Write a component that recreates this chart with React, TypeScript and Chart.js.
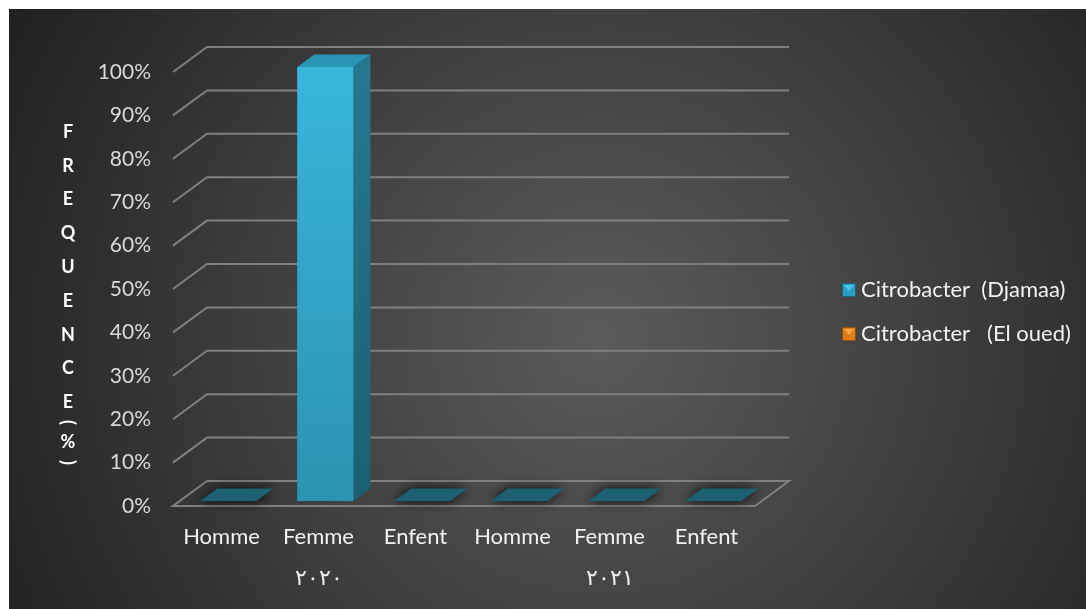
import React, { useEffect, useRef } from 'react';
import { Chart, registerables } from 'chart.js';

Chart.register(...registerables);

// ---- data ----
const categories = ['Homme', 'Femme', 'Enfent', 'Homme', 'Femme', 'Enfent'];
const years = ['٢٠٢٠', '٢٠٢١'];
const djamaa: (number | null)[] = [0, 100, 0, 0, 0, 0];
const elOued: (number | null)[] = [null, null, null, null, null, null];
const seriesNames = ['Citrobacter  (Djamaa)', 'Citrobacter   (El oued)'];
const axisTitle = ['F', 'R', 'E', 'Q', 'U', 'E', 'N', 'C', 'E', '(', '%', ')'];
const yMin = 0;
const yMax = 100;
const yStep = 10;

// ---- styles ----
const W = 1077;
const H = 600;
const DEPTH = { x: 34, y: -25 };
const BAR_FRONT = 0.2;
const BAR_BACK = 0.7;
const FONT = 'Lato, "Open Sans", sans-serif';
const palette = [
  { front0: '#38b6db', front1: '#2c93b0', top: '#2a94b4', side0: '#25788f', side1: '#1c5f72', flat: '#1d6072', mark: '#2a9ec2', markTop: '#4cc6ea' },
  { front0: '#f39a3c', front1: '#c86a14', top: '#d97b22', side0: '#a85612', side1: '#8a460e', flat: '#8a4a12', mark: '#e07b1a', markTop: '#f7a445' },
];

const labels = categories.map((c, i) => (i % 3 === 1 ? [c, years[Math.floor(i / 3)]] : c));

const threeD = {
  id: 'threeD',
  beforeDraw(chart: any) {
    const { ctx, width, height } = chart;
    const g = ctx.createRadialGradient(590, 330, 0, 590, 330, 700);
    g.addColorStop(0, '#5b5b5b');
    g.addColorStop(0.55, '#3a3a3a');
    g.addColorStop(1, '#1e1e1e');
    ctx.save();
    ctx.fillStyle = g;
    ctx.fillRect(0, 0, width, height);
    ctx.restore();
  },
  beforeDatasetsDraw(chart: any) {
    const { ctx, chartArea: a, scales } = chart;
    const y = scales.y;
    ctx.save();
    ctx.strokeStyle = '#808080';
    ctx.lineWidth = 2;
    y.ticks.forEach((t: any) => {
      if (t.value === yMin) return;
      const py = y.getPixelForValue(t.value);
      ctx.beginPath();
      ctx.moveTo(a.left, py);
      ctx.lineTo(a.left + DEPTH.x, py + DEPTH.y);
      ctx.lineTo(a.right + DEPTH.x, py + DEPTH.y);
      ctx.stroke();
    });
    const pb = y.getPixelForValue(yMin);
    ctx.beginPath();
    ctx.moveTo(a.left, pb);
    ctx.lineTo(a.right, pb);
    ctx.lineTo(a.right + DEPTH.x, pb + DEPTH.y);
    ctx.lineTo(a.left + DEPTH.x, pb + DEPTH.y);
    ctx.closePath();
    ctx.stroke();
    ctx.restore();
  },
  afterDatasetsDraw(chart: any) {
    const { ctx } = chart;
    const f0x = DEPTH.x * BAR_FRONT;
    const f0y = DEPTH.y * BAR_FRONT;
    const ddx = DEPTH.x * (BAR_BACK - BAR_FRONT);
    const ddy = DEPTH.y * (BAR_BACK - BAR_FRONT);
    chart.data.datasets.forEach((ds: any, di: number) => {
      const meta = chart.getDatasetMeta(di);
      const col = palette[di];
      meta.data.forEach((el: any, i: number) => {
        const v = ds.data[i];
        if (v === null || v === undefined) return;
        const { x, y, base, width } = el.getProps(['x', 'y', 'base', 'width'], true);
        const x0 = x - width / 2 + f0x;
        const x1 = x0 + width;
        const yt = Math.min(y, base) + f0y;
        const yb = base + f0y;
        ctx.save();
        if (yb - yt < 1) {
          ctx.shadowColor = 'rgba(0,0,0,0.9)';
          ctx.shadowBlur = 12;
          ctx.fillStyle = col.flat;
          ctx.beginPath();
          ctx.moveTo(x0, yb);
          ctx.lineTo(x1, yb);
          ctx.lineTo(x1 + ddx, yb + ddy);
          ctx.lineTo(x0 + ddx, yb + ddy);
          ctx.closePath();
          ctx.fill();
          ctx.restore();
          return;
        }
        // side face
        const sg = ctx.createLinearGradient(0, yt, 0, yb);
        sg.addColorStop(0, col.side0);
        sg.addColorStop(1, col.side1);
        ctx.fillStyle = sg;
        ctx.beginPath();
        ctx.moveTo(x1, yt);
        ctx.lineTo(x1 + ddx, yt + ddy);
        ctx.lineTo(x1 + ddx, yb + ddy);
        ctx.lineTo(x1, yb);
        ctx.closePath();
        ctx.fill();
        // top face
        ctx.fillStyle = col.top;
        ctx.beginPath();
        ctx.moveTo(x0, yt);
        ctx.lineTo(x1, yt);
        ctx.lineTo(x1 + ddx, yt + ddy);
        ctx.lineTo(x0 + ddx, yt + ddy);
        ctx.closePath();
        ctx.fill();
        // front face
        const fg = ctx.createLinearGradient(0, yt, 0, yb);
        fg.addColorStop(0, col.front0);
        fg.addColorStop(1, col.front1);
        ctx.fillStyle = fg;
        ctx.fillRect(x0, yt, width, yb - yt);
        ctx.restore();
      });
    });
  },
  afterDraw(chart: any) {
    const { ctx } = chart;
    ctx.save();
    // vertical axis title
    ctx.fillStyle = '#ffffff';
    ctx.font = `bold 18px ${FONT}`;
    ctx.textAlign = 'center';
    ctx.textBaseline = 'middle';
    let ty = 123;
    const tx = 59;
    axisTitle.forEach((ch, i) => {
      const isParen = ch === '(' || ch === ')';
      if (i > 0) {
        const prev = axisTitle[i - 1];
        const prevParen = prev === '(' || prev === ')';
        ty += isParen || prevParen ? 20 : 33.8;
      }
      if (isParen) {
        ctx.save();
        ctx.translate(tx, ty);
        ctx.rotate(Math.PI / 2);
        ctx.fillText(ch, 0, 0);
        ctx.restore();
      } else {
        ctx.fillText(ch, tx, ty);
      }
    });
    // legend
    ctx.font = `22px ${FONT}`;
    ctx.textAlign = 'left';
    chart.data.datasets.forEach((ds: any, di: number) => {
      const col = palette[di];
      const cy = 281 + di * 44;
      const mx = 833;
      const s = 14;
      const my = cy - s / 2;
      ctx.fillStyle = col.mark;
      ctx.fillRect(mx, my, s, s);
      ctx.fillStyle = col.markTop;
      ctx.beginPath();
      ctx.moveTo(mx + 2, my + 2);
      ctx.lineTo(mx + s - 2, my + 2);
      ctx.lineTo(mx + s / 2, my + s / 2 + 1);
      ctx.closePath();
      ctx.fill();
      ctx.strokeStyle = 'rgba(0,0,0,0.35)';
      ctx.lineWidth = 1;
      ctx.strokeRect(mx + 0.5, my + 0.5, s - 1, s - 1);
      ctx.fillStyle = '#f2f2f2';
      ctx.fillText(ds.label, 852, cy);
    });
    ctx.restore();
  },
};

export default function App() {
  const ref = useRef<HTMLCanvasElement | null>(null);
  useEffect(() => {
    if (!ref.current) return;
    const chart = new Chart(ref.current, {
      type: 'bar',
      data: {
        labels,
        datasets: [
          { label: seriesNames[0], data: djamaa, backgroundColor: 'rgba(0,0,0,0)', borderWidth: 0, skipNull: true } as any,
          { label: seriesNames[1], data: elOued, backgroundColor: 'rgba(0,0,0,0)', borderWidth: 0, skipNull: true } as any,
        ],
      },
      options: {
        responsive: false,
        animation: false,
        events: [],
        layout: { padding: { left: 0, top: 63, right: W - 746, bottom: 0 } },
        datasets: { bar: { categoryPercentage: 1, barPercentage: 0.58 } } as any,
        plugins: { legend: { display: false }, tooltip: { enabled: false } },
        scales: {
          x: {
            grid: { display: false, drawTicks: false },
            border: { display: false },
            ticks: {
              color: '#f2f2f2',
              font: { family: FONT, size: 22, lineHeight: '41px' } as any,
              padding: 10,
              maxRotation: 0,
              autoSkip: false,
            },
            afterFit: (s: any) => {
              s.height = H - 497;
            },
          },
          y: {
            min: yMin,
            max: yMax,
            grid: { display: false, drawTicks: false },
            border: { display: false },
            ticks: {
              stepSize: yStep,
              color: '#d9d9d9',
              font: { family: FONT, size: 21 },
              padding: 22,
              callback: (v: any) => `${v}%`,
            },
            afterFit: (s: any) => {
              s.width = 164;
            },
          },
        },
      },
      plugins: [threeD],
    });
    return () => chart.destroy();
  }, []);
  return (
    <div style={{ position: 'fixed', left: 9, top: 9, width: W, height: H }}>
      <canvas ref={ref} width={W} height={H} style={{ display: 'block' }} />
    </div>
  );
}
